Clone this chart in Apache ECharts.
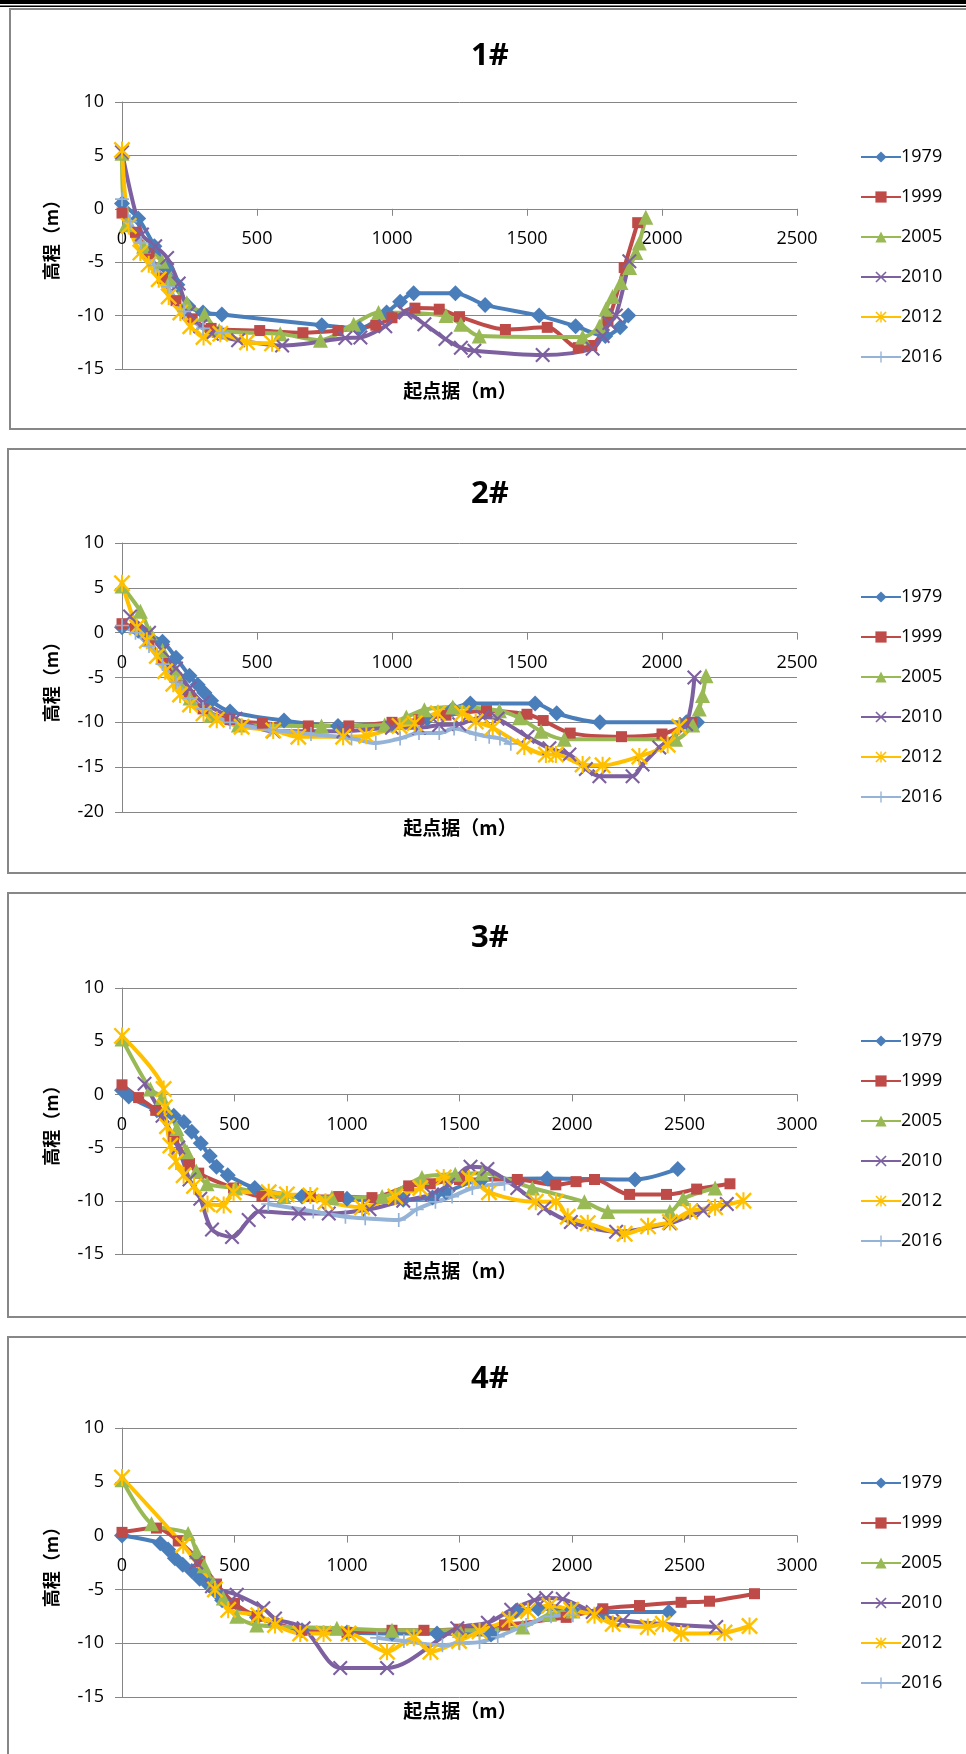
<!DOCTYPE html>
<html>
<head>
<meta charset="UTF-8">
<title>断面图</title>
<script src="https://cdn.jsdelivr.net/npm/echarts@6/dist/echarts.min.js"></script>
<style>
  html, body { margin: 0; padding: 0; background: #fff; }
  #chart { width: 966px; height: 1754px; }
</style>
</head>
<body>
<div id="chart"></div>
<script>
// 年份 / 图例
var years = ['1979', '1999', '2005', '2010', '2012', '2016'];
var panelTitles = ['1#', '2#', '3#', '4#'];
var xName = '起点据（m）';
var yName = '高程（m）';
var xMaxes = [2500, 2500, 3000, 3000];
var yMins = [-15, -20, -15, -15];
var yMax = 10;

// 1# 断面 [起点距, 高程]
var p1_1979 = [[0,0.5],[60,-0.9],[120,-3.5],[165,-5.6],[205,-7.1],[245,-9.1],[300,-9.7],[370,-9.9],[740,-10.9],[880,-11.2],[980,-9.7],[1030,-8.7],[1080,-7.9],[1235,-7.9],[1345,-9],[1545,-10],[1680,-11],[1790,-11.9],[1845,-11.1],[1875,-10]];
var p1_1999 = [[0,-0.4],[50,-2.2],[100,-4.2],[150,-6.5],[200,-8.6],[260,-10.3],[330,-11.2],[510,-11.4],[670,-11.6],[800,-11.4],[940,-10.9],[1000,-10.2],[1085,-9.3],[1175,-9.4],[1250,-10.1],[1420,-11.3],[1575,-11.1],[1690,-13],[1740,-12.8],[1800,-10.5],[1860,-5.5],[1910,-1.3]];
var p1_2005 = [[0,5.2],[15,-1.5],[80,-3.5],[148,-4.9],[180,-6.6],[240,-8.8],[305,-9.9],[360,-11.4],[586,-11.7],[735,-12.3],[858,-10.8],[950,-9.7],[1200,-10],[1255,-10.8],[1323,-11.9],[1706,-12],[1768,-11],[1792,-9.4],[1817,-8.2],[1848,-6.9],[1880,-5.5],[1903,-4.1],[1916,-3.2],[1940,-0.8]];
var p1_2010 = [[0,5.3],[74,-2.4],[123,-3.5],[167,-4.6],[210,-7],[247,-9.7],[290,-11],[333,-11.7],[430,-12.3],[593,-12.8],[827,-12.1],[883,-12.05],[975,-11],[1049,-9.7],[1120,-10.8],[1198,-12.2],[1255,-13],[1305,-13.3],[1558,-13.7],[1743,-13.1],[1780,-11.9],[1805,-10.7],[1829,-10],[1879,-4.9]];
var p1_2012 = [[0,5.5],[25,-1.6],[68,-4.1],[99,-5.2],[136,-6.6],[173,-8.2],[216,-9.7],[253,-11],[302,-12],[364,-11.7],[463,-12.5],[556,-12.6]];
var p1_2016 = [[0,0.9],[30,-1.2],[70,-3.2],[120,-5.3],[170,-7.3],[230,-9.6],[300,-11.2],[370,-11.6]];

// 2# 断面
var p2_1979 = [[0,0.6],[60,0.2],[150,-1],[200,-2.8],[250,-4.8],[280,-5.8],[305,-6.7],[330,-7.6],[400,-8.8],[600,-9.8],[800,-10.4],[1000,-10.3],[1130,-9.6],[1225,-8.5],[1290,-7.9],[1530,-7.9],[1610,-9],[1770,-10],[2090,-10],[2130,-10]];
var p2_1999 = [[0,1],[50,0.5],[100,-1],[150,-3],[200,-5],[250,-7],[300,-8.5],[400,-9.7],[520,-10.1],[690,-10.4],[840,-10.4],[1000,-10],[1100,-9.7],[1200,-9.2],[1350,-8.7],[1500,-9.1],[1560,-9.8],[1660,-11.2],[1850,-11.6],[2000,-11.3],[2110,-10]];
var p2_2005 = [[0,5.2],[68,2.4],[105,0],[150,-2],[200,-4.5],[252,-7.3],[330,-9.2],[431,-10.3],[739,-10.4],[973,-10.3],[1053,-9.4],[1120,-8.6],[1225,-8.3],[1398,-8.7],[1472,-9.5],[1552,-11],[1638,-11.9],[2050,-11.9],[2114,-10.3],[2138,-8.5],[2150,-7],[2163,-4.8]];
var p2_2010 = [[30,1.8],[100,0],[150,-2],[200,-4],[250,-6.2],[300,-7.8],[420,-9.6],[560,-11],[820,-11],[1000,-10.6],[1100,-10.6],[1175,-10.3],[1249,-10.2],[1336,-9.4],[1391,-9.6],[1502,-11.6],[1583,-12.9],[1657,-13.6],[1718,-15.2],[1768,-16],[1891,-16],[1928,-14.7],[1990,-12.8],[2089,-10.2],[2120,-5]];
var p2_2012 = [[0,5.5],[55,0.6],[92,-0.9],[129,-2.6],[160,-4.3],[190,-5.7],[215,-6.9],[252,-8],[302,-9],[351,-9.7],[443,-10.5],[560,-10.9],[653,-11.6],[819,-11.6],[905,-11.5],[1028,-10.4],[1084,-10.1],[1170,-9],[1260,-9],[1310,-9.9],[1373,-10.6],[1490,-12.7],[1570,-13.6],[1607,-13.6],[1706,-14.7],[1780,-14.8],[1916,-13.8],[2021,-12.5],[2064,-10.5]];
var p2_2016 = [[0,0.8],[50,0],[100,-1.5],[150,-3.5],[200,-5.5],[250,-7.3],[300,-8.5],[400,-10],[550,-10.8],[700,-11.3],[850,-11.8],[940,-12.3],[1030,-11.8],[1100,-11.2],[1175,-11.2],[1230,-10.7],[1310,-11.3],[1360,-11.6],[1400,-11.8],[1440,-12.4]];

// 3# 断面
var p3_1979 = [[0,0.4],[30,-0.2],[155,-1.5],[230,-2],[275,-2.6],[310,-3.5],[350,-4.6],[390,-5.8],[420,-6.8],[470,-7.6],[590,-8.8],[800,-9.6],[1000,-9.8],[1250,-9.9],[1380,-9.7],[1440,-9.2],[1600,-8],[1890,-7.9],[2280,-8],[2470,-7]];
var p3_1999 = [[0,0.9],[74,-0.3],[150,-1.5],[230,-4],[300,-6.5],[341,-7.4],[496,-8.8],[622,-9.6],[837,-9.6],[963,-9.6],[1111,-9.7],[1274,-8.6],[1370,-8.4],[1500,-8],[1757,-8],[1928,-8.5],[2018,-8.2],[2100,-8],[2256,-9.4],[2420,-9.4],[2554,-8.9],[2702,-8.4]];
var p3_2005 = [[0,5.2],[126,0.5],[178,-0.3],[244,-3.2],[289,-5.4],[330,-7.2],[378,-8.4],[504,-8.8],[719,-9.6],[933,-9.7],[1156,-9.6],[1333,-7.8],[1481,-7.5],[1601,-7.4],[1824,-8.8],[2055,-10.1],[2159,-11],[2435,-11],[2494,-9.8],[2636,-8.8]];
var p3_2010 = [[100,1],[180,-2],[250,-5],[300,-8],[348,-9.8],[400,-12.7],[489,-13.4],[563,-11.8],[607,-11],[785,-11.2],[919,-11.2],[1100,-10.8],[1250,-10],[1378,-9.4],[1450,-8.5],[1549,-6.8],[1624,-7],[1757,-8.8],[1876,-10.7],[1995,-12],[2196,-12.9],[2435,-12.1],[2583,-10.9],[2688,-10.3]];
var p3_2012 = [[0,5.5],[185,0.5],[190,-1.2],[200,-3],[215,-4.8],[240,-6.3],[274,-7.6],[320,-8.6],[380,-10.3],[452,-10.4],[496,-9.2],[652,-9.2],[733,-9.4],[837,-9.5],[904,-10.1],[1067,-10.6],[1215,-9.6],[1326,-8.8],[1430,-7.8],[1542,-7.9],[1631,-9.2],[1839,-10.1],[1929,-10.1],[1981,-11.5],[2070,-12.1],[2234,-13.1],[2338,-12.4],[2435,-12],[2524,-11],[2636,-10.6],[2762,-10]];
var p3_2016 = [[650,-10.3],[850,-11],[993,-11.5],[1081,-11.65],[1230,-11.8],[1310,-10.8],[1393,-10.1],[1467,-9.6],[1557,-8.8],[1646,-8.5],[1700,-8.4]];

// 4# 断面
var p4_1979 = [[0,0],[170,-0.7],[205,-1.3],[235,-2.1],[270,-2.7],[310,-3.3],[345,-4],[385,-4.6],[415,-5.2],[445,-6],[600,-7.6],[800,-8.8],[1000,-9],[1200,-9.1],[1400,-9.1],[1640,-9.2],[1750,-7],[1850,-6.8],[2000,-6.9],[2140,-7.1],[2430,-7.1]];
var p4_1999 = [[0,0.3],[153,0.7],[250,-0.5],[346,-2.4],[420,-4.5],[500,-6.3],[600,-7.5],[800,-8.8],[1000,-9],[1200,-8.8],[1342,-8.8],[1498,-8.7],[1700,-8.3],[1974,-7.6],[2137,-6.8],[2300,-6.5],[2485,-6.2],[2611,-6.1],[2811,-5.4]];
var p4_2005 = [[0,5.2],[131,1.1],[294,0.2],[331,-1.5],[365,-2.8],[405,-4.4],[450,-5.8],[510,-7.5],[599,-8.3],[955,-8.6],[1200,-8.8],[1500,-8.8],[1781,-8.5],[1900,-7.3],[2004,-7]];
var p4_2010 = [[330,-2.5],[400,-4.7],[510,-5.5],[628,-6.75],[680,-7.7],[807,-8.6],[970,-12.3],[1178,-12.3],[1490,-8.6],[1626,-8.1],[1730,-6.9],[1833,-6],[1885,-5.8],[1959,-5.9],[2092,-7.1],[2226,-7.9],[2641,-8.5]];
var p4_2012 = [[0,5.4],[272,-0.9],[413,-5],[472,-6.9],[606,-7.4],[680,-8.3],[792,-9.1],[896,-9.1],[1007,-9.1],[1178,-10.8],[1297,-9.5],[1371,-10.8],[1498,-9.8],[1589,-8.9],[1722,-7.8],[1804,-7],[1900,-6.5],[1996,-6.9],[2100,-7.4],[2181,-8.2],[2337,-8.5],[2404,-8.2],[2485,-9.1],[2678,-9],[2789,-8.4]];
var p4_2016 = [[1134,-9.5],[1253,-9.8],[1424,-10.2],[1500,-10],[1589,-9.9],[1670,-9.4],[1796,-8.3],[1907,-7.5],[2004,-7.4]];

var panelData = [
    [p1_1979, p1_1999, p1_2005, p1_2010, p1_2012, p1_2016],
    [p2_1979, p2_1999, p2_2005, p2_2010, p2_2012, p2_2016],
    [p3_1979, p3_1999, p3_2005, p3_2010, p3_2012, p3_2016],
    [p4_1979, p4_1999, p4_2005, p4_2010, p4_2012, p4_2016]
];

// 样式（Excel 风格）
var lineColors = ['#4A7EBB', '#BE4B48', '#98B954', '#7D60A0', '#FFC000', '#95B3D7'];
var X_PATH = 'path://M0,1L1,0L10,9L9,10Z M9,0L10,1L1,10L0,9Z';
var STAR_PATH = 'path://M0,1L1,0L10,9L9,10Z M9,0L10,1L1,10L0,9Z M4.4,0L5.6,0L5.6,10L4.4,10Z';
var PLUS_PATH = 'path://M4.4,0L5.6,0L5.6,10L4.4,10Z M0,4.4L10,4.4L10,5.6L0,5.6Z';
var symbols = ['diamond', 'rect', 'triangle', X_PATH, STAR_PATH, PLUS_PATH];
var symbolSizes = [16, 11, 15, 15, 17, 14];

// 版面位置
var gridTops = [102, 543, 988, 1428];
var gridHeights = [267, 269, 266, 269];
var legendTops = [141, 581, 1025, 1467];
var titleYs = [56, 494, 938, 1379];
var xNameYs = [391, 828, 1271, 1711];
var frames = [[10, 9, 420], [8, 449, 424], [8, 893, 424], [8, 1337, 440]];

var font = '"Open Sans", "Liberation Sans", sans-serif';
var cjk = '"Noto Sans CJK SC", sans-serif';

var grids = [], xAxes = [], yAxes = [], legends = [], series = [], graphics = [];

graphics.push({ type: 'rect', shape: { x: 0, y: 0, width: 966, height: 4 }, style: { fill: '#000' } });
graphics.push({ type: 'rect', shape: { x: 0, y: 5.5, width: 966, height: 1.5 }, style: { fill: '#000' } });

for (var i = 0; i < 4; i++) {
    var f = frames[i];
    graphics.push({
        type: 'rect', z: -1,
        shape: { x: f[0], y: f[1], width: 1000, height: f[2] },
        style: { fill: '#fff', stroke: '#878787', lineWidth: 2 }
    });
    graphics.push({
        type: 'text', x: 490, y: titleYs[i],
        style: { text: panelTitles[i], font: 'bold 31px ' + font, fill: '#000', align: 'center', verticalAlign: 'middle' }
    });
    graphics.push({
        type: 'text', x: 460, y: xNameYs[i],
        style: { text: xName, font: 'bold 19px ' + cjk, fill: '#000', align: 'center', verticalAlign: 'middle' }
    });

    // x 轴画在 y=0 处（Excel 的横轴交叉于 0）
    var zeroShift = -(0 - yMins[i]) / (yMax - yMins[i]) * gridHeights[i];

    grids.push({ left: 122, width: 675, top: gridTops[i], height: gridHeights[i], containLabel: false });
    xAxes.push({
        type: 'value', gridIndex: i, min: 0, max: xMaxes[i], interval: 500,
        position: 'bottom', offset: zeroShift,
        axisLine: { onZero: false, lineStyle: { color: '#868686', width: 1 } },
        axisTick: { show: true, length: 7, lineStyle: { color: '#868686' } },
        axisLabel: { margin: 21, fontFamily: font, fontSize: 18, color: '#000',
                     formatter: function (v) { return String(v); } },
        splitLine: { show: false }
    });
    yAxes.push({
        type: 'value', gridIndex: i, min: yMins[i], max: yMax, interval: 5,
        name: yName, nameLocation: 'middle', nameRotate: 90, nameGap: 62,
        nameTextStyle: { fontFamily: cjk, fontWeight: 'bold', fontSize: 18, color: '#000' },
        axisLine: { show: true, onZero: false, lineStyle: { color: '#868686', width: 1 } },
        axisTick: { show: true, length: 7, lineStyle: { color: '#868686' } },
        axisLabel: { margin: 18, fontFamily: font, fontSize: 18, color: '#000' },
        splitLine: { show: true, lineStyle: { color: '#868686', width: 1 } }
    });
    legends.push({
        data: years, orient: 'vertical', left: 855, top: legendTops[i],
        itemWidth: 40, itemHeight: 14, itemGap: 18,
        textStyle: { fontFamily: font, fontSize: 18, color: '#000', lineHeight: 22, padding: [0, 0, 0, -5] }
    });

    for (var k = 0; k < years.length; k++) {
        series.push({
            type: 'line', name: years[k],
            xAxisIndex: i, yAxisIndex: i,
            data: panelData[i][k],
            smooth: 0.3,
            symbol: symbols[k], symbolSize: symbolSizes[k],
            showAllSymbol: true,
            lineStyle: { width: 4, color: lineColors[k] },
            itemStyle: { color: lineColors[k] }
        });
    }
}

var chart = echarts.init(document.getElementById('chart'));
chart.setOption({
    animation: false,
    backgroundColor: '#fff',
    grid: grids,
    xAxis: xAxes,
    yAxis: yAxes,
    legend: legends,
    series: series,
    graphic: graphics
});
</script>
</body>
</html>
